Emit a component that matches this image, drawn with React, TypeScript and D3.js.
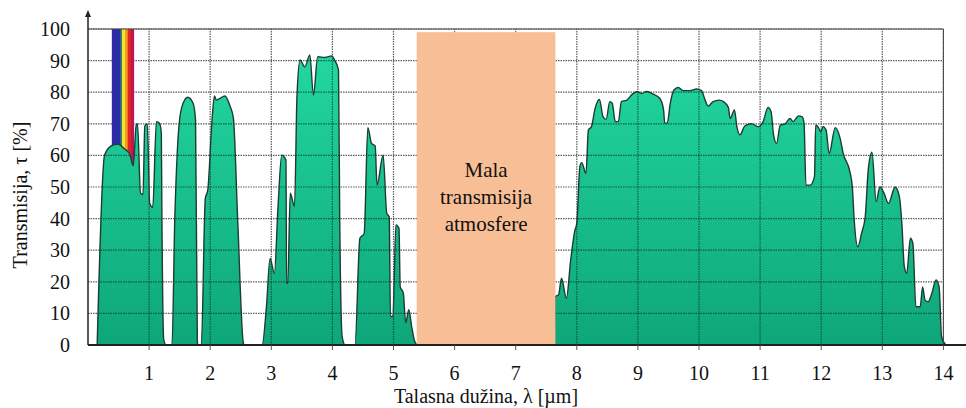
import React from 'react';
import * as d3 from 'd3';

// wavelength [µm] and transmission [%]
const lambda = [
  0.15, 0.27, 0.38, 0.49, 0.6, 0.68, 0.74, 0.79, 0.81, 0.86, 0.9, 0.93, 0.97, 1.01, 1.06, 1.12, 1.17, 1.2, 1.21, 1.24, 1.28,
  1.375, 1.42, 1.46, 1.53, 1.63, 1.72, 1.76, 1.79, 1.8,
  1.855, 1.92, 1.96, 2.03, 2.07, 2.1, 2.155, 2.24, 2.32, 2.38, 2.45, 2.54, 2.56,
  2.85, 2.92, 2.98, 3.05, 3.11, 3.17, 3.24, 3.25, 3.27, 3.31, 3.38, 3.42, 3.47, 3.55, 3.63, 3.69, 3.76, 3.88, 3.99, 4.04, 4.1, 4.12, 4.16, 4.21,
  4.37, 4.45, 4.52, 4.58, 4.64, 4.7, 4.73, 4.83, 4.89, 4.93, 4.95, 4.99, 5.04, 5.09, 5.11, 5.16, 5.2, 5.25, 5.3, 5.35, 5.4,
  7.63, 7.64, 7.7, 7.75, 7.83, 7.9, 7.97, 8.0, 8.05, 8.08, 8.15, 8.19, 8.24, 8.3, 8.37, 8.43, 8.48, 8.54, 8.58, 8.63, 8.68,
  8.73, 8.82, 8.91, 8.99, 9.06, 9.14, 9.25, 9.36, 9.42, 9.44, 9.48, 9.53, 9.59, 9.66, 9.74, 9.85, 9.96, 10.04, 10.1, 10.15,
  10.23, 10.33, 10.4, 10.48, 10.51, 10.58, 10.62, 10.67, 10.75, 10.86, 10.97, 11.05, 11.13, 11.18, 11.22, 11.27, 11.33,
  11.41, 11.49, 11.54, 11.63, 11.69, 11.72, 11.75, 11.82, 11.89, 11.91, 11.96, 11.99, 12.03, 12.08, 12.13, 12.23, 12.31,
  12.36, 12.47, 12.51, 12.54, 12.6, 12.66, 12.72, 12.77, 12.83, 12.9, 12.96, 13.03, 13.1, 13.21, 13.28, 13.32, 13.36, 13.4,
  13.46, 13.5, 13.55, 13.62, 13.66, 13.7, 13.75, 13.81, 13.88, 13.93, 13.97, 14.04,
];
const tau = [
  0, 60, 63, 63.6, 62, 60.6, 56.7, 69.6, 70, 48, 47.6, 69.3, 70, 44.8, 43.6, 70.7, 70.2, 67, 39.6, 1.6, 0,
  0, 39.6, 60.6, 74.9, 78.4, 76.5, 71.2, 1, 0,
  0, 46.4, 49, 71.2, 78.8, 77.5, 78, 78.8, 75.9, 71.7, 39.6, 1, 0,
  0, 12, 27.4, 22.7, 43.8, 60.1, 58.5, 19.5, 19.5, 48, 43.8, 78.6, 90.2, 88, 91.8, 79.1, 91.2, 91, 91.5, 90, 87, 39.6, 2.6, 0,
  0, 33.8, 35.3, 68.8, 63.8, 63, 50.6, 60.1, 41.7, 40.5, 9, 9, 38, 36.9, 18.4, 16.5, 7, 11.2, 5.5, 1, 0,
  0, 15.3, 15.8, 21.1, 14.8, 26.9, 36.4, 38.5, 56.4, 57.7, 54.3, 68, 69.1, 74.9, 77.7, 72.2, 71.4, 77, 76.5, 70.7, 70.7,
  77, 77.5, 79.4, 80.2, 79.6, 80.2, 79.4, 78, 74.4, 70.2, 70.2, 76.5, 80.7, 81.5, 80.5, 80.5, 81, 80.5, 77.5, 75.6,
  77, 77.5, 77, 75.2, 71.7, 74.4, 69.1, 66.5, 69.3, 70, 69.1, 70.7, 75.2, 73.8, 66.5, 63.8, 69.6,
  70, 71.7, 70.7, 72.5, 72.2, 70, 50.6, 50.6, 53.3, 69.6, 68.6, 67.5, 69.1, 68, 60.6, 68.8, 65.4,
  60.6, 54.8, 50, 39.6, 31.1, 35.3, 40.5, 55.4, 61, 45.4, 50, 48, 44.8, 50, 46.9, 38.5, 24.8, 22.7,
  33.8, 32.2, 12.1, 12.1, 18.4, 14.2, 13.7, 16.3, 20.6, 18.4, 2.6, 0,
];
const xTicks = d3.range(1, 15);
const yTicks = d3.range(0, 101, 10);
const visible = [0.39, 0.75];
const opaqueBand = [5.38, 7.65];
const boxLabel = ['Mala', 'transmisija', 'atmosfere'];

const W = 966, H = 408;
const x = d3.scaleLinear().domain([0, 14]).range([88, 943.4]);
const y = d3.scaleLinear().domain([0, 100]).range([345, 29]);

// stripes of the visible band: [start, end, colour] as share of its width
const stripes: [number, number, string][] = [
  [0, 0.4, '#2c2ca6'], [0.4, 0.47, '#2f8f5a'], [0.47, 0.6, '#f3e22c'],
  [0.6, 0.72, '#f49a22'], [0.72, 0.87, '#e3261d'], [0.87, 1, '#b8185e'],
];

export default function App() {
  const pts: [number, number][] = lambda.map((l, i) => [l, tau[i]]);
  const area = d3.area<[number, number]>()
    .x(d => x(d[0])).y0(y(0)).y1(d => y(d[1]))
    .curve(d3.curveMonotoneX);
  const line = d3.line<[number, number]>()
    .x(d => x(d[0])).y(d => y(d[1]))
    .curve(d3.curveMonotoneX);
  const areaD = area(pts) || '';
  const serif = { fontFamily: "'Liberation Serif', 'Times New Roman', Times, serif" };

  const grid = (cls: string, stroke: string, op: number) => (
    <g className={cls} stroke={stroke} strokeOpacity={op} strokeWidth={1.2} strokeDasharray="1.5,1">
      {yTicks.slice(1).map(t => (
        <line key={'h' + t} x1={x(0)} x2={x(14)} y1={y(t)} y2={y(t)} />
      ))}
      {xTicks.map(t => (
        <line key={'v' + t} x1={x(t)} x2={x(t)} y1={y(0)} y2={y(100)} />
      ))}
    </g>
  );

  const vx0 = x(visible[0]), vw = x(visible[1]) - x(visible[0]);

  return (
    <svg width={W} height={H} style={{ position: 'absolute', left: 0, top: 0, background: '#fff' }}>
      <defs>
        <linearGradient id="fillG" x1="0" y1="0" x2="0" y2="1">
          <stop offset="0%" stopColor="#22d79f" />
          <stop offset="100%" stopColor="#0ea67a" />
        </linearGradient>
        <clipPath id="areaClip">
          <path d={areaD} />
        </clipPath>
      </defs>

      {grid('grid', '#333', 0.8)}

      {stripes.map(([a, b, c]) => (
        <rect key={c} x={vx0 + a * vw} y={y(100)} width={(b - a) * vw + 0.3} height={y(0) - y(100)} fill={c} />
      ))}

      <path d={areaD} fill="url(#fillG)" />
      <g clipPath="url(#areaClip)">{grid('grid-over', '#0b3d2c', 0.75)}</g>
      <path d={line(pts) || ''} fill="none" stroke="#1d3d33" strokeWidth={1.4} />

      <rect x={x(opaqueBand[0])} y={y(99)} width={x(opaqueBand[1]) - x(opaqueBand[0])} height={y(0) - y(99)}
        fill="#f8be95" />
      <g style={serif} fontSize={21} textAnchor="middle" fill="#111">
        {boxLabel.map((s, i) => (
          <text key={s} x={(x(opaqueBand[0]) + x(opaqueBand[1])) / 2} y={177 + i * 27}>{s}</text>
        ))}
      </g>

      {/* frame */}
      <line x1={x(0)} x2={x(14)} y1={y(100)} y2={y(100)} stroke="#444" strokeWidth={1} />
      <line x1={x(14)} x2={x(14)} y1={y(100)} y2={y(0)} stroke="#444" strokeWidth={1} />
      <line x1={x(0)} x2={x(0)} y1={y(0)} y2={15} stroke="#222" strokeWidth={1.5} />
      <path d={`M${x(0) - 3},17 L${x(0)},10 L${x(0) + 3},17 Z`} fill="#222" />
      <line x1={x(0)} x2={W} y1={y(0)} y2={y(0)} stroke="#222" strokeWidth={1.8} />
      {xTicks.map(t => (
        <line key={t} x1={x(t)} x2={x(t)} y1={y(0)} y2={y(0) + 5} stroke="#555" strokeWidth={1} />
      ))}

      <g style={serif} fontSize={20} fill="#111">
        {yTicks.map(t => (
          <text key={t} x={70} y={y(t)} dy="0.35em" textAnchor="end">{t}</text>
        ))}
        {xTicks.map(t => (
          <text key={t} x={x(t)} y={380} textAnchor="middle">{t}</text>
        ))}
        <text x={486} y={403} textAnchor="middle">Talasna dužina, λ [µm]</text>
        <text transform="translate(27,195) rotate(-90)" textAnchor="middle">Transmisija, τ [%]</text>
      </g>
    </svg>
  );
}
